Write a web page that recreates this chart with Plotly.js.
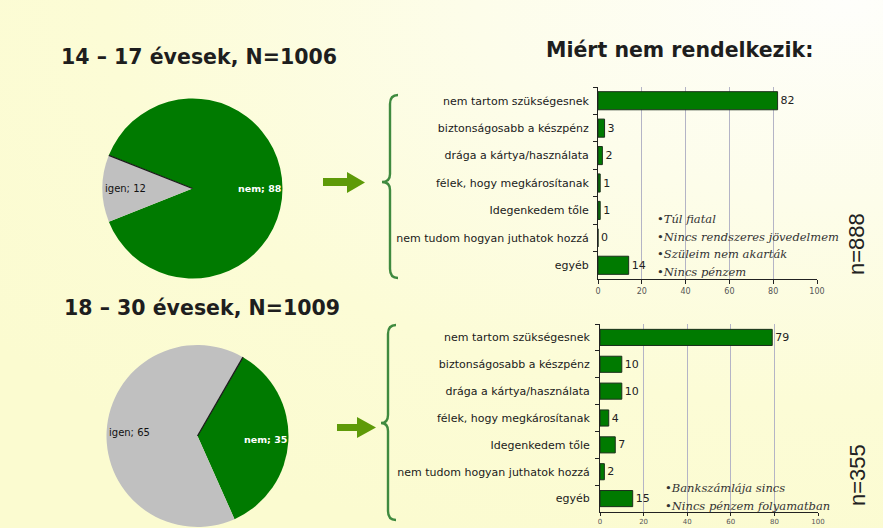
<!DOCTYPE html>
<html>
<head>
<meta charset="utf-8">
<script src="https://cdn.plot.ly/plotly-3.0.1.min.js"></script>
<style>
html,body{margin:0;padding:0;}
body{width:883px;height:528px;overflow:hidden;
background: radial-gradient(ellipse 120% 110% at 96% 0%, #fefefb 0%, #fdfdea 35%, #fcfcd6 70%, #fbfbd0 100%);}
#chart{width:883px;height:528px;}
</style>
</head>
<body>
<div id="chart"></div>
<script>
// ---- data ----
const pieLabels = ['nem', 'igen'];
const pie1Values = [88, 12];   // 14–17 évesek
const pie2Values = [35, 65];   // 18–30 évesek

const categories = [
  'nem tartom szükségesnek',
  'biztonságosabb a készpénz',
  'drága a kártya/használata',
  'félek, hogy megkárosítanak',
  'Idegenkedem tőle',
  'nem tudom hogyan juthatok hozzá',
  'egyéb'
];
const bar1Values = [82, 3, 2, 1, 1, 0, 14];
const bar2Values = [79, 10, 10, 4, 7, 2, 15];
const xTicks = [0, 20, 40, 60, 80, 100];

const title1 = '14 – 17 évesek, N=1006';
const title2 = '18 – 30 évesek, N=1009';
const titleRight = 'Miért nem rendelkezik:';
const n1 = 'n=888';
const n2 = 'n=355';
const notes1 = ['•Túl fiatal', '•Nincs rendszeres jövedelmem', '•Szüleim nem akarták', '•Nincs pénzem'];
const notes2 = ['•Bankszámlája sincs', '•Nincs pénzem folyamatban'];

// ---- helpers (pixel -> paper) ----
const W = 883, H = 528;
const X = px => px / W;
const Y = py => 1 - py / H;
function pathOf(points) {
  return points.map(p => {
    const c = p[0]; const nums = p.slice(1);
    const out = [];
    for (let i = 0; i < nums.length; i += 2) out.push(X(nums[i]).toFixed(5) + ',' + Y(nums[i + 1]).toFixed(5));
    return c + ' ' + out.join(' ');
  }).join(' ');
}

const GREEN = '#007a00';
const GRAY = '#c0c0c0';

const pies = [
  {values: pie1Values, cx: 192.5, cy: 188.5, r: 90, rot: -68.4},
  {values: pie2Values, cx: 197.5, cy: 436, r: 91, rot: 30}
];

const traces = [];
const annotations = [];
const shapes = [];

pies.forEach(p => {
  traces.push({
    type: 'pie', labels: pieLabels, values: p.values, sort: false,
    direction: 'clockwise', rotation: p.rot,
    marker: {colors: [GREEN, GRAY], line: {width: 0}},
    textinfo: 'none', hoverinfo: 'none', showlegend: false,
    domain: {x: [X(p.cx - p.r), X(p.cx + p.r)], y: [Y(p.cy + p.r), Y(p.cy - p.r)]}
  });
  const total = p.values.reduce((a, b) => a + b, 0);
  let start = p.rot;
  p.values.forEach((v, i) => {
    const span = 360 * v / total;
    const mid = (start + span / 2) * Math.PI / 180;
    const tx = p.cx + 0.75 * p.r * Math.sin(mid);
    const ty = p.cy - 0.75 * p.r * Math.cos(mid);
    annotations.push({
      xref: 'paper', yref: 'paper', x: X(tx), y: Y(ty), xanchor: 'center', yanchor: 'middle',
      text: pieLabels[i] + '; ' + v, showarrow: false,
      font: {family: 'DejaVu Sans', size: i === 0 ? 9.5 : 10, color: i === 0 ? '#ffffff' : '#111111', weight: i === 0 ? 'bold' : 'normal'}
    });
    start += span;
  });
  const a = p.rot * Math.PI / 180;
  shapes.push({type: 'line', xref: 'paper', yref: 'paper',
    x0: X(p.cx), y0: Y(p.cy), x1: X(p.cx + p.r * Math.sin(a)), y1: Y(p.cy - p.r * Math.cos(a)),
    line: {color: '#1a1a1a', width: 1.3}});
});

const bars = [
  {values: bar1Values, xa: 'x', ya: 'y', width: 0.66},
  {values: bar2Values, xa: 'x2', ya: 'y2', width: 0.6}
];
bars.forEach(b => {
  traces.push({
    type: 'bar', orientation: 'h', x: b.values, y: categories, xaxis: b.xa, yaxis: b.ya,
    width: b.width,
    marker: {color: GREEN, line: {color: '#1c301c', width: 1}},
    text: b.values.map(String), textposition: 'outside', constraintext: 'none', cliponaxis: false,
    textfont: {family: 'DejaVu Sans', size: 11, color: '#222'},
    hoverinfo: 'none', showlegend: false
  });
});

const xaxisBase = {
  range: [0, 100], tickvals: xTicks, ticktext: xTicks.map(String),
  showgrid: true, gridcolor: '#b4b4c6', gridwidth: 1, zeroline: false,
  showline: true, linecolor: '#222', linewidth: 1,
  ticks: 'outside', ticklen: 4, tickcolor: '#222',
  tickfont: {family: 'DejaVu Sans', size: 8, color: '#555'}, fixedrange: true
};
const yaxisBase = {
  type: 'category', autorange: 'reversed',
  showline: true, linecolor: '#222', linewidth: 1, showgrid: false, zeroline: false,
  ticks: 'outside', tickson: 'boundaries', ticklen: 4, tickcolor: '#222',
  tickfont: {family: 'DejaVu Sans', size: 11, color: '#1a1a1a'}, fixedrange: true
};

// titles
const titleFont = {family: 'DejaVu Sans', size: 20.5, color: '#1e1e1e', weight: 'bold'};
annotations.push({xref: 'paper', yref: 'paper', x: X(59), y: Y(57), xanchor: 'left', yanchor: 'middle', text: title1, showarrow: false, font: titleFont});
annotations.push({xref: 'paper', yref: 'paper', x: X(62), y: Y(308), xanchor: 'left', yanchor: 'middle', text: title2, showarrow: false, font: titleFont});
annotations.push({xref: 'paper', yref: 'paper', x: X(544), y: Y(50), xanchor: 'left', yanchor: 'middle', text: titleRight, showarrow: false, font: titleFont});

// n labels
const nFont = {family: 'Liberation Sans', size: 22, color: '#222'};
annotations.push({xref: 'paper', yref: 'paper', x: X(856), y: Y(244), xanchor: 'center', yanchor: 'middle', text: n1, textangle: -90, showarrow: false, font: nFont});
annotations.push({xref: 'paper', yref: 'paper', x: X(857), y: Y(475), xanchor: 'center', yanchor: 'middle', text: n2, textangle: -90, showarrow: false, font: nFont});

// notes
const noteFont = {family: 'DejaVu Serif', size: 11.5, color: '#333', style: 'italic'};
const notes1Y = [219, 237, 254, 272];
notes1.forEach((t, i) => annotations.push({xref: 'paper', yref: 'paper', x: X(655), y: Y(notes1Y[i]), xanchor: 'left', yanchor: 'middle', text: t, showarrow: false, font: noteFont}));
const notes2Y = [488, 506];
notes2.forEach((t, i) => annotations.push({xref: 'paper', yref: 'paper', x: X(663), y: Y(notes2Y[i]), xanchor: 'left', yanchor: 'middle', text: t, showarrow: false, font: noteFont}));

// braces
const braceLine = {color: '#3f8a3f', width: 2.4};
shapes.push({type: 'path', xref: 'paper', yref: 'paper', line: braceLine,
  path: pathOf([['M', 398, 95], ['Q', 390, 95, 390, 104], ['L', 390, 174], ['Q', 390, 182, 382, 182], ['Q', 390, 182, 390, 190], ['L', 390, 269], ['Q', 390, 278, 398, 278]])});
shapes.push({type: 'path', xref: 'paper', yref: 'paper', line: braceLine,
  path: pathOf([['M', 396, 325], ['Q', 388, 325, 388, 334], ['L', 388, 415], ['Q', 388, 423, 381, 423], ['Q', 388, 423, 388, 431], ['L', 388, 511], ['Q', 388, 520, 396, 520]])});

// arrows
const arrowColor = '#5e9a08';
shapes.push({type: 'path', xref: 'paper', yref: 'paper', fillcolor: arrowColor, line: {width: 0},
  path: pathOf([['M', 323, 178], ['L', 347, 178], ['L', 347, 172], ['L', 365, 182.5], ['L', 347, 193], ['L', 347, 186], ['L', 323, 186]]) + ' Z'});
shapes.push({type: 'path', xref: 'paper', yref: 'paper', fillcolor: arrowColor, line: {width: 0},
  path: pathOf([['M', 337, 424], ['L', 357, 424], ['L', 357, 417], ['L', 376, 427.5], ['L', 357, 438], ['L', 357, 431], ['L', 337, 431]]) + ' Z'});

const layout = {
  width: W, height: H,
  margin: {l: 0, r: 0, t: 0, b: 0, pad: 0},
  paper_bgcolor: 'rgba(0,0,0,0)', plot_bgcolor: 'rgba(0,0,0,0)',
  showlegend: false,
  xaxis: Object.assign({}, xaxisBase, {domain: [X(598), X(817)], anchor: 'y'}),
  yaxis: Object.assign({}, yaxisBase, {domain: [Y(279), Y(87)], anchor: 'x', ticklabelstandoff: 6}),
  xaxis2: Object.assign({}, xaxisBase, {domain: [X(600), X(818)], anchor: 'y2', ticklen: 3, tickfont: {family: 'DejaVu Sans', size: 7, color: '#555'}}),
  yaxis2: Object.assign({}, yaxisBase, {domain: [Y(512), Y(324)], anchor: 'x2', ticklabelstandoff: 7}),
  annotations: annotations,
  shapes: shapes
};

Plotly.newPlot('chart', traces, layout, {displayModeBar: false, staticPlot: true});
</script>
</body>
</html>
